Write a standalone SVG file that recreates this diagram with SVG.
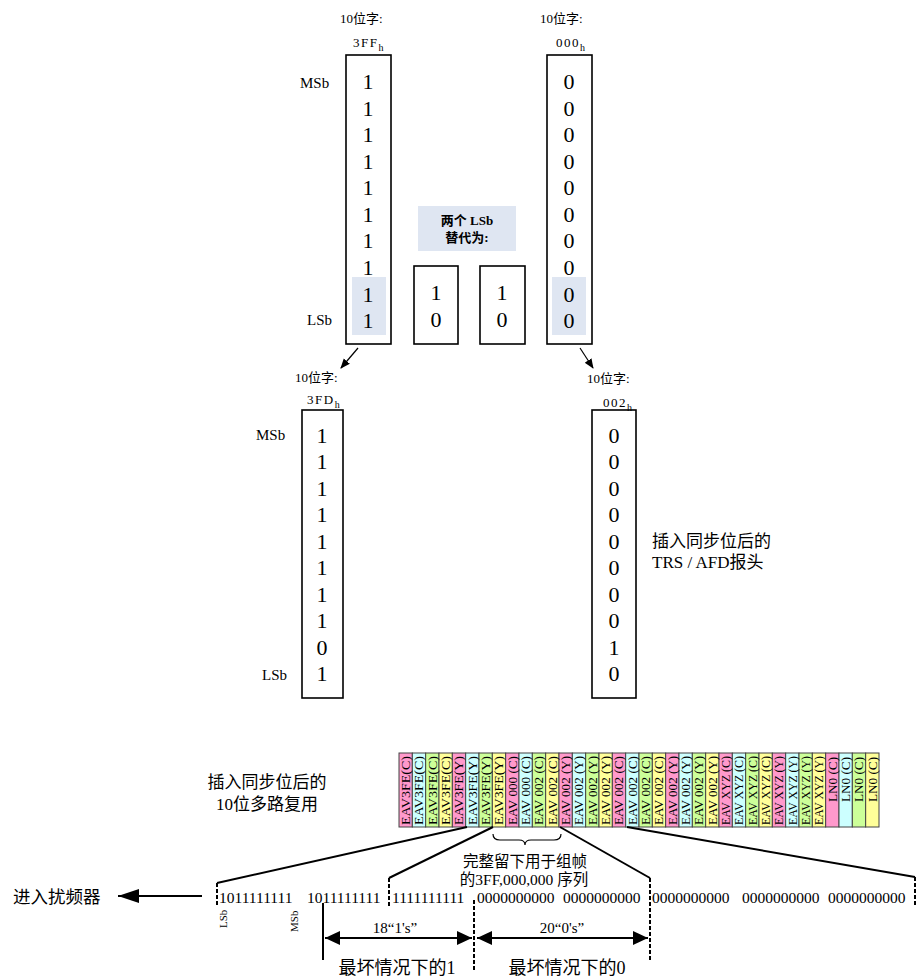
<svg xmlns="http://www.w3.org/2000/svg" width="917" height="979" viewBox="0 0 917 979">
<style>
text{font-family:"Liberation Serif","Noto Sans CJK SC",serif;fill:#000}
.box{fill:none;stroke:#000;stroke-width:1.6}
.hl{fill:#dfe6f2}
.dg{font-size:22px;text-anchor:middle}
.lbl{font-size:13px}
.sb{font-size:15px}
.cell{stroke:#444;stroke-width:1}
.p{fill:#ff99cc}.c{fill:#ccffff}.g{fill:#ccff99}.y{fill:#ffff99}
.ct{font-size:12.5px;text-anchor:end}
.bits{font-size:15.5px}
.ln{fill:none;stroke:#000;stroke-width:2}
.dl{fill:none;stroke:#000;stroke-width:2;stroke-dasharray:4 2}
.thin{fill:none;stroke:#000;stroke-width:1.2}
.big{font-size:17px}
</style>
<defs>
<marker id="ah" markerWidth="10" markerHeight="10" refX="9" refY="5" orient="auto" markerUnits="userSpaceOnUse">
<path d="M0,1 L10,5 L0,9 Z" fill="#000"/>
</marker>
<marker id="bh" markerWidth="16" markerHeight="14" refX="15" refY="7" orient="auto-start-reverse" markerUnits="userSpaceOnUse">
<path d="M0,0 L15,7 L0,14 Z" fill="#000"/>
</marker>
<marker id="lh" markerWidth="22" markerHeight="14" refX="21" refY="7" orient="auto" markerUnits="userSpaceOnUse">
<path d="M0,0 L21,7 L0,14 Z" fill="#000"/>
</marker>
</defs>

<g id="word-3FF">
<text class="lbl" x="340" y="23">10位字:</text>
<text class="lbl" x="353" y="47" font-size="12" letter-spacing="1.5">3FF<tspan font-size="10" dy="4">h</tspan></text>
<text class="sb" x="300" y="88">MSb</text>
<text class="sb" x="307" y="325">LSb</text>
<rect class="hl" x="352" y="277" width="34" height="58"/>
<rect class="box" x="346" y="55" width="45" height="289"/>
<text class="dg" x="368" y="89">1</text>
<text class="dg" x="368" y="115.5">1</text>
<text class="dg" x="368" y="142">1</text>
<text class="dg" x="368" y="168.7">1</text>
<text class="dg" x="368" y="195.2">1</text>
<text class="dg" x="368" y="221.8">1</text>
<text class="dg" x="368" y="248.4">1</text>
<text class="dg" x="368" y="274.9">1</text>
<text class="dg" x="368" y="301.5">1</text>
<text class="dg" x="368" y="328">1</text>
</g>

<g id="word-000">
<text class="lbl" x="540" y="23">10位字:</text>
<text class="lbl" x="556" y="47" font-size="12" letter-spacing="1.5">000<tspan font-size="10" dy="4">h</tspan></text>
<rect class="hl" x="552" y="277" width="34" height="58"/>
<rect class="box" x="547" y="55" width="45" height="289"/>
<text class="dg" x="569" y="89">0</text>
<text class="dg" x="569" y="115.5">0</text>
<text class="dg" x="569" y="142">0</text>
<text class="dg" x="569" y="168.7">0</text>
<text class="dg" x="569" y="195.2">0</text>
<text class="dg" x="569" y="221.8">0</text>
<text class="dg" x="569" y="248.4">0</text>
<text class="dg" x="569" y="274.9">0</text>
<text class="dg" x="569" y="301.5">0</text>
<text class="dg" x="569" y="328">0</text>
</g>

<g id="replace-note">
<rect class="hl" x="418" y="206" width="98" height="45"/>
<text class="lbl" x="467" y="225" text-anchor="middle" font-weight="bold">两个 LSb</text>
<text class="lbl" x="467" y="242" text-anchor="middle" font-weight="bold">替代为:</text>
</g>

<g id="repl-a">
<rect class="box" x="414" y="266" width="44" height="78"/>
<text class="dg" x="436" y="300">1</text>
<text class="dg" x="436" y="327">0</text>
</g>
<g id="repl-b">
<rect class="box" x="480" y="266" width="45" height="78"/>
<text class="dg" x="502" y="300">1</text>
<text class="dg" x="502" y="327">0</text>
</g>

<g id="word-3FD">
<text class="lbl" x="295" y="382">10位字:</text>
<text class="lbl" x="307" y="404" font-size="12" letter-spacing="1.5">3FD<tspan font-size="10" dy="4">h</tspan></text>
<text class="sb" x="256" y="440" font-size="14">MSb</text>
<text class="sb" x="262" y="680" font-size="14">LSb</text>
<rect class="box" x="302" y="410" width="41" height="288"/>
<text class="dg" x="322" y="443">1</text>
<text class="dg" x="322" y="469.4">1</text>
<text class="dg" x="322" y="495.9">1</text>
<text class="dg" x="322" y="522.3">1</text>
<text class="dg" x="322" y="548.8">1</text>
<text class="dg" x="322" y="575.2">1</text>
<text class="dg" x="322" y="601.7">1</text>
<text class="dg" x="322" y="628.1">1</text>
<text class="dg" x="322" y="654.6">0</text>
<text class="dg" x="322" y="681">1</text>
</g>

<g id="word-002">
<text class="lbl" x="587" y="383">10位字:</text>
<text class="lbl" x="603" y="407" font-size="12" letter-spacing="1.5">002<tspan font-size="10" dy="4">h</tspan></text>
<rect class="box" x="592" y="410" width="44" height="288"/>
<text class="dg" x="614" y="443">0</text>
<text class="dg" x="614" y="469.4">0</text>
<text class="dg" x="614" y="495.9">0</text>
<text class="dg" x="614" y="522.3">0</text>
<text class="dg" x="614" y="548.8">0</text>
<text class="dg" x="614" y="575.2">0</text>
<text class="dg" x="614" y="601.7">0</text>
<text class="dg" x="614" y="628.1">0</text>
<text class="dg" x="614" y="654.6">1</text>
<text class="dg" x="614" y="681">0</text>
<text class="big" x="652" y="547">插入同步位后的</text>
<text class="big" x="652" y="568">TRS / AFD报头</text>
</g>

<g id="mux-label">
<text class="big" x="267" y="788" text-anchor="middle">插入同步位后的</text>
<text class="big" x="267" y="810" text-anchor="middle">10位多路复用</text>
</g>

<g id="mux-strip">
<rect class="cell p" x="399" y="753" width="13.33" height="74"/>
<rect class="cell c" x="412.33" y="753" width="13.33" height="74"/>
<rect class="cell g" x="425.67" y="753" width="13.33" height="74"/>
<rect class="cell y" x="439" y="753" width="13.33" height="74"/>
<rect class="cell p" x="452.33" y="753" width="13.33" height="74"/>
<rect class="cell c" x="465.67" y="753" width="13.33" height="74"/>
<rect class="cell g" x="479" y="753" width="13.33" height="74"/>
<rect class="cell y" x="492.33" y="753" width="13.33" height="74"/>
<rect class="cell p" x="505.67" y="753" width="13.33" height="74"/>
<rect class="cell c" x="519" y="753" width="13.33" height="74"/>
<rect class="cell g" x="532.33" y="753" width="13.33" height="74"/>
<rect class="cell y" x="545.67" y="753" width="13.33" height="74"/>
<rect class="cell p" x="559" y="753" width="13.33" height="74"/>
<rect class="cell c" x="572.33" y="753" width="13.33" height="74"/>
<rect class="cell g" x="585.67" y="753" width="13.33" height="74"/>
<rect class="cell y" x="599" y="753" width="13.33" height="74"/>
<rect class="cell p" x="612.33" y="753" width="13.33" height="74"/>
<rect class="cell c" x="625.67" y="753" width="13.33" height="74"/>
<rect class="cell g" x="639" y="753" width="13.33" height="74"/>
<rect class="cell y" x="652.33" y="753" width="13.33" height="74"/>
<rect class="cell p" x="665.67" y="753" width="13.33" height="74"/>
<rect class="cell c" x="679" y="753" width="13.33" height="74"/>
<rect class="cell g" x="692.33" y="753" width="13.33" height="74"/>
<rect class="cell y" x="705.67" y="753" width="13.33" height="74"/>
<rect class="cell p" x="719" y="753" width="13.33" height="74"/>
<rect class="cell c" x="732.33" y="753" width="13.33" height="74"/>
<rect class="cell g" x="745.67" y="753" width="13.33" height="74"/>
<rect class="cell y" x="759" y="753" width="13.33" height="74"/>
<rect class="cell p" x="772.33" y="753" width="13.33" height="74"/>
<rect class="cell c" x="785.67" y="753" width="13.33" height="74"/>
<rect class="cell g" x="799" y="753" width="13.33" height="74"/>
<rect class="cell y" x="812.33" y="753" width="13.33" height="74"/>
<rect class="cell p" x="825.67" y="753" width="13.33" height="74"/>
<rect class="cell c" x="839" y="753" width="13.33" height="74"/>
<rect class="cell g" x="852.33" y="753" width="13.33" height="74"/>
<rect class="cell y" x="865.67" y="753" width="13.33" height="74"/>
<g class="ct">
<text transform="translate(410,756) rotate(-90)" textLength="69" lengthAdjust="spacingAndGlyphs">EAV3FE(C)</text>
<text transform="translate(423.3,756) rotate(-90)" textLength="69" lengthAdjust="spacingAndGlyphs">EAV3FE(C)</text>
<text transform="translate(436.7,756) rotate(-90)" textLength="69" lengthAdjust="spacingAndGlyphs">EAV3FE(C)</text>
<text transform="translate(450,756) rotate(-90)" textLength="69" lengthAdjust="spacingAndGlyphs">EAV3FE(C)</text>
<text transform="translate(463.3,756) rotate(-90)" textLength="69" lengthAdjust="spacingAndGlyphs">EAV3FE(Y)</text>
<text transform="translate(476.7,756) rotate(-90)" textLength="69" lengthAdjust="spacingAndGlyphs">EAV3FE(Y)</text>
<text transform="translate(490,756) rotate(-90)" textLength="69" lengthAdjust="spacingAndGlyphs">EAV3FE(Y)</text>
<text transform="translate(503.3,756) rotate(-90)" textLength="69" lengthAdjust="spacingAndGlyphs">EAV3FE(Y)</text>
<text transform="translate(516.7,756) rotate(-90)" textLength="69" lengthAdjust="spacingAndGlyphs">EAV 000 (C)</text>
<text transform="translate(530,756) rotate(-90)" textLength="69" lengthAdjust="spacingAndGlyphs">EAV 000 (C)</text>
<text transform="translate(543.3,756) rotate(-90)" textLength="69" lengthAdjust="spacingAndGlyphs">EAV 002 (C)</text>
<text transform="translate(556.7,756) rotate(-90)" textLength="69" lengthAdjust="spacingAndGlyphs">EAV 002 (C)</text>
<text transform="translate(570,756) rotate(-90)" textLength="69" lengthAdjust="spacingAndGlyphs">EAV 002 (Y)</text>
<text transform="translate(583.3,756) rotate(-90)" textLength="69" lengthAdjust="spacingAndGlyphs">EAV 002 (Y)</text>
<text transform="translate(596.7,756) rotate(-90)" textLength="69" lengthAdjust="spacingAndGlyphs">EAV 002 (Y)</text>
<text transform="translate(610,756) rotate(-90)" textLength="69" lengthAdjust="spacingAndGlyphs">EAV 002 (Y)</text>
<text transform="translate(623.3,756) rotate(-90)" textLength="69" lengthAdjust="spacingAndGlyphs">EAV 002 (C)</text>
<text transform="translate(636.7,756) rotate(-90)" textLength="69" lengthAdjust="spacingAndGlyphs">EAV 002 (C)</text>
<text transform="translate(650,756) rotate(-90)" textLength="69" lengthAdjust="spacingAndGlyphs">EAV 002 (C)</text>
<text transform="translate(663.3,756) rotate(-90)" textLength="69" lengthAdjust="spacingAndGlyphs">EAV 002 (C)</text>
<text transform="translate(676.7,756) rotate(-90)" textLength="69" lengthAdjust="spacingAndGlyphs">EAV 002 (Y)</text>
<text transform="translate(690,756) rotate(-90)" textLength="69" lengthAdjust="spacingAndGlyphs">EAV 002 (Y)</text>
<text transform="translate(703.3,756) rotate(-90)" textLength="69" lengthAdjust="spacingAndGlyphs">EAV 002 (Y)</text>
<text transform="translate(716.7,756) rotate(-90)" textLength="69" lengthAdjust="spacingAndGlyphs">EAV 002 (Y)</text>
<text transform="translate(730,756) rotate(-90)" textLength="69" lengthAdjust="spacingAndGlyphs">EAV XYZ (C)</text>
<text transform="translate(743.3,756) rotate(-90)" textLength="69" lengthAdjust="spacingAndGlyphs">EAV XYZ (C)</text>
<text transform="translate(756.7,756) rotate(-90)" textLength="69" lengthAdjust="spacingAndGlyphs">EAV XYZ (C)</text>
<text transform="translate(770,756) rotate(-90)" textLength="69" lengthAdjust="spacingAndGlyphs">EAV XYZ (C)</text>
<text transform="translate(783.3,756) rotate(-90)" textLength="69" lengthAdjust="spacingAndGlyphs">EAV XYZ (Y)</text>
<text transform="translate(796.7,756) rotate(-90)" textLength="69" lengthAdjust="spacingAndGlyphs">EAV XYZ (Y)</text>
<text transform="translate(810,756) rotate(-90)" textLength="69" lengthAdjust="spacingAndGlyphs">EAV XYZ (Y)</text>
<text transform="translate(823.3,756) rotate(-90)" textLength="69" lengthAdjust="spacingAndGlyphs">EAV XYZ (Y)</text>
<text transform="translate(836.7,757) rotate(-90)" textLength="45" lengthAdjust="spacingAndGlyphs">LN0 (C)</text>
<text transform="translate(850,757) rotate(-90)" textLength="45" lengthAdjust="spacingAndGlyphs">LN0 (C)</text>
<text transform="translate(863.3,757) rotate(-90)" textLength="45" lengthAdjust="spacingAndGlyphs">LN0 (C)</text>
<text transform="translate(876.7,757) rotate(-90)" textLength="45" lengthAdjust="spacingAndGlyphs">LN0 (C)</text>
</g>
</g>

<g id="framing-note">
<path class="thin" d="M493,834 Q493,840 500,840 L519,840 Q525,840 525,845 Q525,840 531,840 L554,840 Q561,840 561,834"/>
<text x="525" y="867" text-anchor="middle" font-size="15.5">完整留下用于组帧</text>
<text x="524" y="885" text-anchor="middle" font-size="15.5">的3FF,000,000 序列</text>
</g>

<g id="bitstream">
<text class="bits" x="219" y="903">1011111111</text>
<text class="bits" x="307" y="903">1011111111</text>
<text class="bits" x="392" y="903">1111111111</text>
<text class="bits" x="477" y="903">0000000000</text>
<text class="bits" x="563" y="903">0000000000</text>
<text class="bits" x="652" y="903">0000000000</text>
<text class="bits" x="742" y="903">0000000000</text>
<text class="bits" x="828" y="903">0000000000</text>
<text transform="translate(227,928) rotate(-90)" font-size="11">LSb</text>
<text transform="translate(298,932) rotate(-90)" font-size="11">MSb</text>
</g>

<g id="scrambler">
<text x="13" y="903" font-size="17.5">进入扰频器</text>
</g>

<g id="runs">
<text x="395" y="933" text-anchor="middle" font-size="15">18“1's”</text>
<text x="562" y="933" text-anchor="middle" font-size="15">20“0's”</text>
<text x="397" y="974" text-anchor="middle" font-size="18">最坏情况下的1</text>
<text x="567" y="974" text-anchor="middle" font-size="18">最坏情况下的0</text>
</g>

<g id="connectors">
<line class="thin" x1="358" y1="348" x2="341" y2="368" marker-end="url(#ah)"/>
<line class="thin" x1="580" y1="348" x2="593" y2="368" marker-end="url(#ah)"/>
<polyline class="ln" points="467,827 217,883"/>
<line class="dl" x1="217" y1="883" x2="217" y2="906"/>
<polyline class="ln" points="493,827 389,878"/>
<line class="dl" x1="389" y1="878" x2="389" y2="906"/>
<polyline class="ln" points="560,827 650,878"/>
<line class="dl" x1="650" y1="878" x2="650" y2="960"/>
<polyline class="ln" points="627,827 915,877"/>
<line class="dl" x1="915" y1="877" x2="915" y2="906"/>
<line class="ln" x1="323" y1="903" x2="323" y2="960"/>
<line class="dl" x1="474" y1="900" x2="474" y2="970"/>
<line class="ln" x1="325" y1="938" x2="472" y2="938" marker-start="url(#bh)" marker-end="url(#bh)"/>
<line class="ln" x1="477" y1="938" x2="648" y2="938" marker-start="url(#bh)" marker-end="url(#bh)"/>
<line class="ln" x1="202" y1="896" x2="118" y2="896" marker-end="url(#lh)"/>
</g>
</svg>
